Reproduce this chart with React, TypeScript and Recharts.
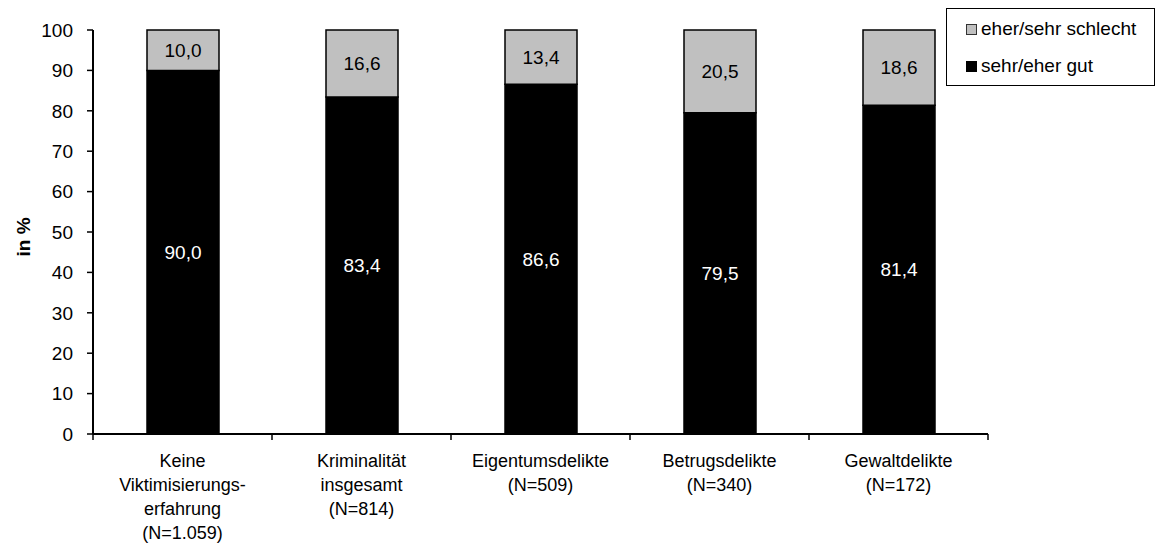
import React from 'react';
import { BarChart, Bar, XAxis, YAxis, LabelList } from 'recharts';

// categories (line breaks as in the original axis labels)
const categories = [
  'Keine\nViktimisierungs-\nerfahrung\n(N=1.059)',
  'Kriminalität\ninsgesamt\n(N=814)',
  'Eigentumsdelikte\n(N=509)',
  'Betrugsdelikte\n(N=340)',
  'Gewaltdelikte\n(N=172)',
];
const gut = [90.0, 83.4, 86.6, 79.5, 81.4];
const schlecht = [10.0, 16.6, 13.4, 20.5, 18.6];
const yTicks = [0, 10, 20, 30, 40, 50, 60, 70, 80, 90, 100];

const data = categories.map((c, i) => ({ name: c, gut: gut[i], schlecht: schlecht[i] }));

const FONT = 'Arial, "Liberation Sans", sans-serif';
const fmt = (v: any) => Number(v).toFixed(1).replace('.', ',');

// category label plus the tick marks at the band boundaries
const CatTick = (props: any) => {
  const { x, y, payload, index, visibleTicksCount, width } = props;
  const half = payload.offset != null ? payload.offset : width / visibleTicksCount / 2;
  const lines = String(payload.value).split('\n');
  const axisY = y - 8;
  return (
    <g>
      <line x1={x - half} x2={x - half} y1={axisY} y2={axisY + 6} stroke="#000" strokeWidth={1.5} />
      {index === visibleTicksCount - 1 && (
        <line x1={x + half} x2={x + half} y1={axisY} y2={axisY + 6} stroke="#000" strokeWidth={1.5} />
      )}
      <text x={x} y={y + 25} textAnchor="middle" fontFamily={FONT} fontSize={18} fill="#000">
        {lines.map((l, i) => (
          <tspan key={i} x={x} dy={i === 0 ? 0 : 24}>{l}</tspan>
        ))}
      </text>
    </g>
  );
};

const LegendBox = () => (
  <div
    style={{
      position: 'absolute',
      left: 946,
      top: 8,
      width: 209,
      height: 78,
      boxSizing: 'border-box',
      border: '1.5px solid #000',
      background: '#fff',
      fontFamily: FONT,
      fontSize: 19,
      color: '#000',
    }}
  >
    <div style={{ position: 'absolute', left: 19, top: 9, display: 'flex', alignItems: 'center', whiteSpace: 'nowrap' }}>
      <span style={{ width: 9, height: 9, background: '#c0c0c0', border: '1px solid #333', marginRight: 4 }} />
      <span>eher/sehr schlecht</span>
    </div>
    <div style={{ position: 'absolute', left: 19, top: 46, display: 'flex', alignItems: 'center', whiteSpace: 'nowrap' }}>
      <span style={{ width: 9, height: 9, background: '#000', border: '1px solid #000', marginRight: 4 }} />
      <span>sehr/eher gut</span>
    </div>
  </div>
);

const YLabel = () => (
  <text
    x={23}
    y={237}
    transform="rotate(-90, 23, 237)"
    textAnchor="middle"
    dominantBaseline="central"
    fontFamily={FONT}
    fontSize={19}
    fontWeight="bold"
    fill="#000"
  >
    in %
  </text>
);

export default function App() {
  return (
    <div style={{ position: 'absolute', left: 0, top: 0, width: 1156, height: 546, background: '#fff' }}>
      <BarChart
        width={1156}
        height={546}
        data={data}
        margin={{ top: 30, right: 168, bottom: 0, left: 0 }}
        barCategoryGap={0}
      >
        <XAxis
          dataKey="name"
          height={112}
          interval={0}
          axisLine={{ stroke: '#000', strokeWidth: 2 }}
          tickLine={false}
          tick={<CatTick />}
        />
        <YAxis
          width={93}
          domain={[0, 100]}
          ticks={yTicks}
          interval={0}
          tickSize={6}
          tickLine={{ stroke: '#000', strokeWidth: 1.5 }}
          axisLine={{ stroke: '#000', strokeWidth: 2 }}
          tick={{ fill: '#000', fontSize: 19, fontFamily: FONT }}
          tickMargin={14}
          label={<YLabel />}
        />
        <Bar dataKey="gut" stackId="s" fill="#000" stroke="#000" strokeWidth={1.5} barSize={72} isAnimationActive={false}>
          <LabelList dataKey="gut" position="center" formatter={fmt} fill="#fff" fontSize={19} fontFamily={FONT} />
        </Bar>
        <Bar dataKey="schlecht" stackId="s" fill="#c0c0c0" stroke="#000" strokeWidth={1.5} barSize={72} isAnimationActive={false}>
          <LabelList dataKey="schlecht" position="center" formatter={fmt} fill="#000" fontSize={19} fontFamily={FONT} />
        </Bar>
      </BarChart>
      <LegendBox />
    </div>
  );
}
